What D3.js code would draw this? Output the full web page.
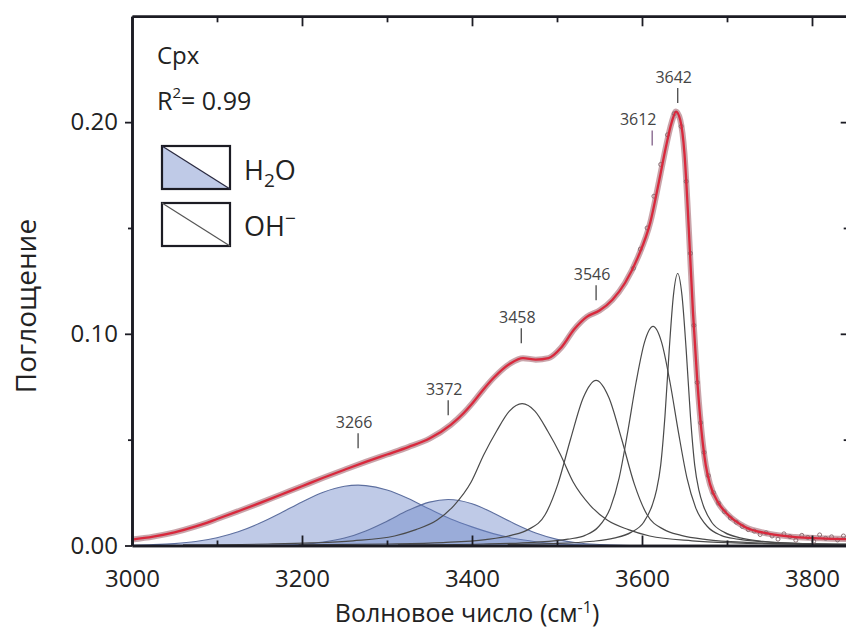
<!DOCTYPE html>
<html><head><meta charset="utf-8">
<script src="https://cdn.jsdelivr.net/npm/d3@7"></script>
<style>body{margin:0;background:#fff}svg{display:block}text{font-family:"Open Sans","Noto Sans",sans-serif}</style>
</head><body><svg id="c" width="846" height="636"></svg>
<script>
// ---- data ----
const fitWave = [3000,3025,3050,3075,3100,3125,3150,3175,3200,3225,3250,3275,3300,3325,3350,3375,3390,3400,3412,3425,3445,3460,3475,3490,3505,3520,3535,3550,3565,3580,3595,3610,3620,3628,3635,3640,3645,3650,3655,3660,3665,3670,3675,3680,3690,3700,3720,3750,3780,3810,3842];
const fitAbs  = [0.0028,0.0042,0.0062,0.0090,0.0125,0.0162,0.0200,0.0240,0.0280,0.0320,0.0358,0.0395,0.0430,0.0465,0.0505,0.0570,0.0625,0.0670,0.0730,0.0790,0.0860,0.0885,0.0878,0.0885,0.0935,0.1020,0.1080,0.1110,0.1160,0.1240,0.1360,0.1530,0.1720,0.1880,0.2000,0.2050,0.2010,0.1850,0.1500,0.1100,0.0780,0.0540,0.0380,0.0290,0.0200,0.0150,0.0090,0.0055,0.0040,0.0034,0.0030];

const measWave = [3590,3598,3606,3614,3622,3630,3638,3646,3652,3657,3661,3665,3669,3673,3678,3684,3690,3697,3704,3711,3718,3725,3732,3739,3746,3753,3760,3767,3774,3781,3788,3795,3802,3809,3816,3823,3830,3837];
const measAbs  = [0.131,0.140,0.150,0.165,0.180,0.194,0.204,0.198,0.172,0.138,0.104,0.077,0.058,0.044,0.033,0.025,0.020,0.016,0.013,0.011,0.009,0.0075,0.0068,0.0052,0.0060,0.0045,0.0030,0.0055,0.0042,0.0025,0.0048,0.0038,0.0020,0.0050,0.0034,0.0041,0.0026,0.0045];

// H2O bands
const h2oAWave = [3000,3025,3050,3075,3100,3125,3150,3175,3200,3225,3250,3266,3275,3300,3325,3350,3375,3400,3425,3450,3475,3500,3525,3550,3600];
const h2oAAbs  = [0.00015,0.0004,0.0009,0.0019,0.0037,0.0065,0.0105,0.0154,0.0206,0.0252,0.0280,0.0285,0.0283,0.0262,0.0222,0.0172,0.0125,0.0088,0.0056,0.0033,0.0018,0.0008,0.0003,0.0001,0];
const h2oBWave = [3150,3175,3200,3225,3250,3275,3300,3325,3350,3372,3400,3425,3450,3475,3500,3525,3550,3575,3600];
const h2oBAbs  = [0.00005,0.0002,0.0006,0.0016,0.0035,0.0069,0.0115,0.0166,0.0205,0.0217,0.0197,0.0154,0.0103,0.0059,0.0029,0.0012,0.0005,0.0001,0];

// OH bands
const oh1Wave = [3060,3160,3210,3260,3309,3334,3359,3379,3399,3414,3429,3444,3459,3474,3489,3504,3519,3539,3559,3584,3609,3659,3709,3759,3842];
const oh1Abs  = [0.0003,0.0007,0.0012,0.0022,0.0045,0.0075,0.012,0.019,0.030,0.043,0.0541,0.0635,0.067,0.0635,0.0541,0.043,0.030,0.019,0.012,0.0075,0.0045,0.0022,0.0012,0.0007,0.0003];
const oh2Wave = [3196,3296,3366,3416,3446,3466,3486,3501,3516,3531,3546,3561,3576,3591,3606,3626,3646,3676,3726,3796,3842];
const oh2Abs  = [0.0003,0.0007,0.0014,0.0028,0.0048,0.0075,0.0145,0.029,0.0503,0.0699,0.078,0.0699,0.0503,0.029,0.0145,0.0075,0.0048,0.0028,0.0014,0.0007,0.0004];
const oh3Wave = [3313,3413,3473,3513,3533,3548,3563,3573,3583,3593,3603,3613,3623,3633,3643,3653,3663,3678,3693,3713,3753,3813,3842];
const oh3Abs  = [0.0003,0.0007,0.0015,0.003,0.0048,0.0085,0.018,0.0317,0.0532,0.0770,0.0961,0.1035,0.0961,0.0770,0.0532,0.0317,0.018,0.0085,0.0048,0.003,0.0015,0.0007,0.0005];
const oh4Wave = [3442,3492,3542,3567,3587,3602,3612,3617,3622,3627,3632,3637,3642,3647,3652,3657,3662,3667,3672,3682,3697,3717,3742,3792,3842];
const oh4Abs  = [0.0005,0.0009,0.002,0.0035,0.0062,0.011,0.019,0.026,0.038,0.061,0.0923,0.1183,0.1285,0.1183,0.0923,0.061,0.038,0.026,0.019,0.011,0.0062,0.0035,0.002,0.0009,0.0006];

const peakLabels = ["3266","3372","3458","3546","3612","3642"];
const peakWave   = [3266,3372,3458,3546,3612,3642];
const peakTickAbs = [0.046,0.0615,0.0955,0.1158,0.189,0.209];

const xMajor = [3000,3200,3400,3600,3800];
const xMinor = [3100,3300,3500,3700];
const yMajor = [0.00,0.10,0.20];
const yMinor = [0.05,0.15];

// ---- drawing ----
const svg = d3.select("#c");
const x = d3.scaleLinear().domain([3000,3842]).range([132,132+0.85*842]);
const y = d3.scaleLinear().domain([0,0.25]).range([545.5,16.3]);
const zip = (a,b)=>a.map((v,i)=>[v,b[i]]);

const plot = svg.append("g");
const area = d3.area().x(d=>x(d[0])).y0(y(0)).y1(d=>y(d[1])).curve(d3.curveMonotoneX);
const line = d3.line().x(d=>x(d[0])).y(d=>y(d[1])).curve(d3.curveMonotoneX);

[[h2oAWave,h2oAAbs],[h2oBWave,h2oBAbs]].forEach(([w,a])=>{
  const d = zip(w,a);
  plot.append("path").attr("d",area(d)).attr("fill","#6a83c8").attr("fill-opacity",0.43);
  plot.append("path").attr("d",line(d)).attr("fill","none").attr("stroke","#5d6f9f").attr("stroke-width",1.1);
});
[[oh1Wave,oh1Abs],[oh2Wave,oh2Abs],[oh3Wave,oh3Abs],[oh4Wave,oh4Abs]].forEach(([w,a])=>{
  plot.append("path").attr("d",line(zip(w,a))).attr("fill","none").attr("stroke","#4a4a4a").attr("stroke-width",1.2);
});

const fit = zip(fitWave,fitAbs);
plot.append("path").attr("d",line(fit)).attr("fill","none").attr("stroke","#b27d86").attr("stroke-width",6).attr("stroke-opacity",0.7);
plot.selectAll("circle.m").data(zip(measWave,measAbs)).join("circle")
  .attr("cx",d=>x(d[0])).attr("cy",d=>y(d[1])).attr("r",2)
  .attr("fill","none").attr("stroke","#8c6f74").attr("stroke-width",1);
plot.append("path").attr("d",line(fit)).attr("fill","none").attr("stroke","#d9283c").attr("stroke-width",2.3);

// axes
const axW = 2.6, axC = "#1c1c24";
function styleAxis(g){ g.select(".domain").attr("stroke",axC).attr("stroke-width",axW);
  g.selectAll(".tick line").attr("stroke",axC).attr("stroke-width",1.8);
  g.selectAll("text").attr("font-size",24).attr("fill","#222").attr("font-family","Open Sans"); }

svg.append("g").attr("transform",`translate(0,${y(0)})`)
  .call(d3.axisBottom(x).tickValues(xMajor).tickSize(-10).tickPadding(24).tickFormat(d3.format("d")).tickSizeOuter(0)).call(styleAxis);
svg.append("g").attr("transform",`translate(0,${y(0)})`)
  .call(d3.axisBottom(x).tickValues(xMinor).tickSize(-5).tickFormat("").tickSizeOuter(0)).call(styleAxis);
svg.append("g").attr("transform",`translate(0,${y(0.25)})`)
  .call(d3.axisTop(x).tickValues(xMajor.slice(1)).tickSize(-10).tickFormat("").tickSizeOuter(0)).call(styleAxis);
svg.append("g").attr("transform",`translate(0,${y(0.25)})`)
  .call(d3.axisTop(x).tickValues(xMinor).tickSize(-6).tickFormat("").tickSizeOuter(0)).call(styleAxis);
svg.append("g").attr("transform",`translate(${x(3000)},0)`)
  .call(d3.axisLeft(y).tickValues(yMajor).tickSize(7).tickPadding(7).tickFormat(d3.format(".2f")).tickSizeOuter(0)).call(styleAxis);
svg.append("g").attr("transform",`translate(${x(3000)},0)`)
  .call(d3.axisLeft(y).tickValues(yMinor).tickSize(4).tickFormat("").tickSizeOuter(0)).call(styleAxis);
svg.append("g").attr("transform",`translate(${x(3842)},0)`)
  .call(d3.axisRight(y).tickValues(yMajor.slice(1)).tickSize(-7).tickFormat("").tickSizeOuter(0)).call(styleAxis);
svg.append("g").attr("transform",`translate(${x(3842)},0)`)
  .call(d3.axisRight(y).tickValues(yMinor).tickSize(-4).tickFormat("").tickSizeOuter(0)).call(styleAxis);

// axis titles
svg.append("text").attr("transform","translate(36,306) rotate(-90)").attr("text-anchor","middle")
  .attr("font-size",28).attr("fill","#222").text("Поглощение");
const xt = svg.append("text").attr("x",467).attr("y",622).attr("text-anchor","middle").attr("font-size",25).attr("fill","#222");
xt.append("tspan").text("Волновое число (см");
xt.append("tspan").attr("dy",-9).attr("font-size",16).text("-1");
xt.append("tspan").attr("dy",9).text(")");

// peak labels
peakLabels.forEach((lab,i)=>{
  const px = x(peakWave[i]), py = y(peakTickAbs[i]);
  const off = lab==="3612" ? -14 : -4;
  svg.append("line").attr("x1",px).attr("x2",px).attr("y1",py).attr("y2",py-15)
    .attr("stroke", lab==="3612" ? "#8a6a90" : "#555").attr("stroke-width",1.4);
  svg.append("text").attr("x",px+off).attr("y",py-20).attr("text-anchor","middle")
    .attr("font-size",16).attr("fill","#444").text(lab);
});

// annotation + legend
svg.append("text").attr("x",157).attr("y",64).attr("font-size",24).attr("fill","#222").text("Cpx");
const r2 = svg.append("text").attr("x",157).attr("y",110).attr("font-size",25).attr("fill","#222");
r2.append("tspan").text("R");
r2.append("tspan").attr("dy",-12).attr("font-size",15).text("2");
r2.append("tspan").attr("dy",12).text("= 0.99");

const lg = svg.append("g");
lg.append("path").attr("d","M162,146 L230,189 L162,189 Z").attr("fill","#6a83c8").attr("fill-opacity",0.43);
lg.append("rect").attr("x",162).attr("y",146).attr("width",68).attr("height",43).attr("fill","none").attr("stroke","#1c1c24").attr("stroke-width",2.2);
lg.append("line").attr("x1",162).attr("y1",146).attr("x2",230).attr("y2",189).attr("stroke","#2a2a40").attr("stroke-width",1.3);
lg.append("rect").attr("x",162).attr("y",203).attr("width",68).attr("height",43).attr("fill","none").attr("stroke","#1c1c24").attr("stroke-width",2.2);
lg.append("line").attr("x1",162).attr("y1",203).attr("x2",230).attr("y2",246).attr("stroke","#555").attr("stroke-width",1.2);
const t1 = lg.append("text").attr("x",244).attr("y",180).attr("font-size",27).attr("fill","#222");
t1.append("tspan").text("H");
t1.append("tspan").attr("dy",7).attr("font-size",19).text("2");
t1.append("tspan").attr("dy",-7).text("O");
const t2 = lg.append("text").attr("x",244).attr("y",236).attr("font-size",27).attr("fill","#222");
t2.append("tspan").text("OH");
t2.append("tspan").attr("dy",-11).attr("font-size",19).text("−");
</script></body></html>
